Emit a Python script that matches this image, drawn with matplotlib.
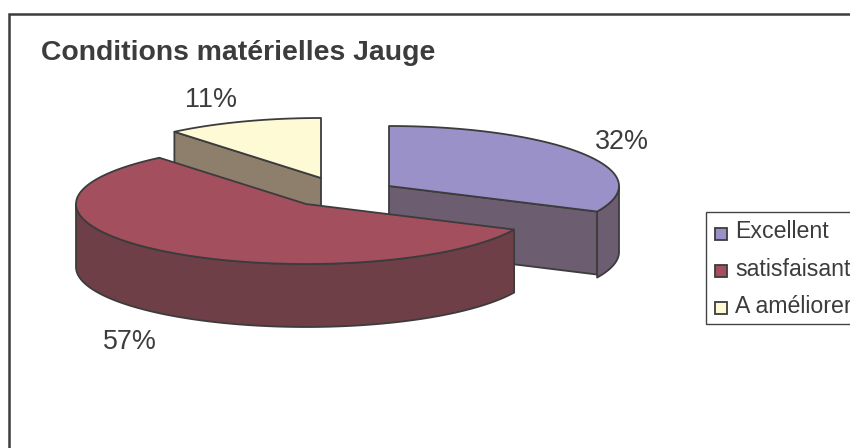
import numpy as np
import matplotlib
matplotlib.use('Agg')
import matplotlib.pyplot as plt
from matplotlib.patches import Rectangle

plt.rcParams['font.family'] = ['Liberation Sans', 'DejaVu Sans']

# data
categories = ['Excellent', 'satisfaisant', 'A améliorer']
values = [32, 57, 11]
pct_labels = ['32%', '57%', '11%']

top_colors = ['#9A91C8', '#A44F5E', '#FFFAD6']
side_colors = ['#6C5D70', '#6E3F47', '#8E7E6C']
edge = '#3C3C3C'
text_col = '#3C3C3C'

# pixel layout of the exploded slices
centers = [(389, 186), (306, 204), (321, 178)]
rx, ry, depth = 230, 60, 63
label_pos = [(622, 142), (130, 342), (211, 100)]

fig = plt.figure(figsize=(8.5, 4.48), dpi=100)
ax = fig.add_axes([0, 0, 1, 1])
ax.set_xlim(0, 850)
ax.set_ylim(448, 0)
ax.axis('off')

# chart frame, right and bottom sides are cut off
ax.add_patch(Rectangle((9, 14), 860, 450, fc='white', ec=edge, lw=1.8))


def rim(cx, cy, a0, a1):
    # angles clockwise from 12 o'clock, degrees
    t = np.radians(np.linspace(a0, a1, 120))
    return cx + rx * np.sin(t), cy - ry * np.cos(t)


def poly(x, y, color):
    ax.fill(x, y, fc=color, ec=edge, lw=1.3, joinstyle='round')


fracs = np.cumsum([0] + values) / sum(values) * 360
starts, ends = fracs[:-1], fracs[1:]

# back to front: Excellent, then A ameliorer, then satisfaisant
for i in [0, 2, 1]:
    cx, cy = centers[i]
    a0, a1 = starts[i], ends[i]
    xe, ye = rim(cx, cy, a1, a1)
    xs, ys = rim(cx, cy, a0, a0)
    if i == 0:
        # radial wall at the end of the slice
        poly([cx, xe[0], xe[0], cx], [cy, ye[0], ye[0] + depth, cy + depth], side_colors[i])
        # little outer wall on the right
        x, y = rim(cx, cy, 90, a1)
        poly(np.r_[x, x[::-1]], np.r_[y, y[::-1] + depth + 3], side_colors[i])
    if i == 2:
        # radial wall at the start of the slice
        poly([cx, xs[0], xs[0], cx], [cy, ys[0], ys[0] + depth, cy + depth], side_colors[i])
    if i == 1:
        # outer wall, front part only
        x, y = rim(cx, cy, a0, 270)
        poly(np.r_[x, x[::-1]], np.r_[y, y[::-1] + depth], side_colors[i])
    x, y = rim(cx, cy, a0, a1)
    poly(np.r_[cx, x], np.r_[cy, y], top_colors[i])

for lab, (x, y) in zip(pct_labels, label_pos):
    ax.text(x, y, lab, fontsize=19.4, color=text_col, ha='center', va='center')

ax.text(41, 60, 'Conditions matérielles Jauge', fontsize=20.4, fontweight='bold',
        color=text_col, ha='left', va='baseline')

# legend
ax.add_patch(Rectangle((706, 212), 170, 112, fc='white', ec='#444444', lw=1.0))
for i, cat in enumerate(categories):
    yy = 232 + i * 37.2
    ax.add_patch(Rectangle((715, yy - 4), 12, 12, fc=top_colors[i], ec=edge, lw=1.3))
    ax.text(735, yy, cat, fontsize=16.7, color=text_col, ha='left', va='center')

fig.savefig('out.png', dpi=100)
